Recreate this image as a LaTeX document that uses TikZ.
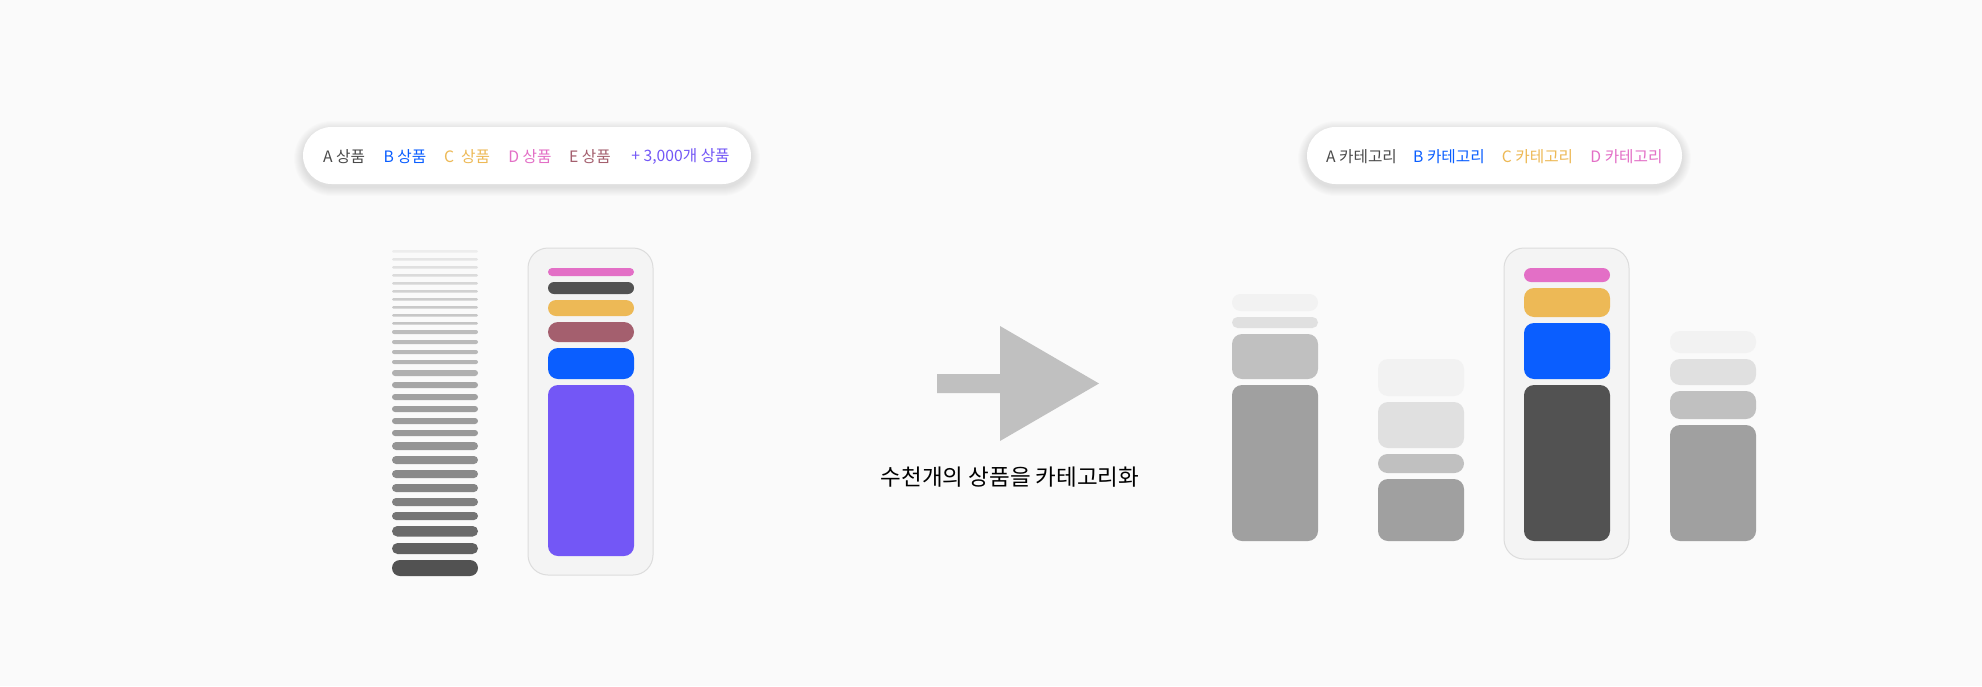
\documentclass[tikz,border=0pt]{standalone}
\usepackage{fontspec}
\setmainfont{Noto Sans CJK KR}
\definecolor{bgc}{HTML}{FAFAFA}
\definecolor{cA}{HTML}{4A4A4A}
\definecolor{cB}{HTML}{0A5EFF}
\definecolor{cC}{HTML}{EDB956}
\definecolor{cD}{HTML}{E36FC6}
\definecolor{cE}{HTML}{A45F6E}
\definecolor{cP}{HTML}{7357F6}
\definecolor{cDark}{HTML}{525252}
\definecolor{cardfill}{HTML}{F4F4F4}
\definecolor{cardline}{HTML}{DCDCDC}
\definecolor{g1}{HTML}{F2F2F2}
\definecolor{g2}{HTML}{E0E0E0}
\definecolor{g3}{HTML}{C0C0C0}
\definecolor{g4}{HTML}{A0A0A0}
\definecolor{arrowc}{HTML}{C0C0C0}
\newcommand\rbox[5]{%
  \pgfmathsetmacro\rr{min((#4)/2,10)}%
  \fill[#5, rounded corners=\rr pt] (#1,#2) rectangle ++(#3,#4);}
\newcommand\pill[4]{%
  \foreach \i in {1,...,9}{%
    \pgfmathsetmacro\rs{28.5+\i}%
    \fill[black, opacity=0.010, rounded corners=\rs pt] (#1-\i,#2-\i+3) rectangle (#3+\i,#4+\i+3);}
  \fill[white, rounded corners=28.5pt] (#1,#2) rectangle (#3,#4);}
\begin{document}
\begin{tikzpicture}[x=1pt,y=-1pt,
  every node/.style={inner sep=0pt, outer sep=0pt},
  lbl/.style={font=\fontsize{15.7}{18}\selectfont},
  card/.style={fill=cardfill, draw=cardline, line width=1pt, rounded corners=20pt}]
\useasboundingbox (0,0) rectangle (1982,686);
\fill[bgc] (0,0) rectangle (1982,686);

% ---------- pills ----------
\pill{303}{127}{751}{184}
\pill{1307}{127}{1682}{184}

\node[lbl, text=cA] (pA) at (344,156.3) {A 상품};
\node[lbl, text=cB] (pB) at (405,156.3) {B 상품};
\node[lbl, text=cC] (pC) at (467,156.3) {C\ \ 상품};
\node[lbl, text=cD] (pD) at (530,156.3) {D 상품};
\node[lbl, text=cE] (pE) at (590,156.3) {E 상품};
\node[lbl, text=cP] (pP) at (680.5,156.3) {+ 3,000개 상품};

\node[lbl, text=cA] (kA) at (1361.5,156.3) {A 카테고리};
\node[lbl, text=cB] (kB) at (1449,156.3) {B 카테고리};
\node[lbl, text=cC] (kC) at (1537.5,156.3) {C 카테고리};
\node[lbl, text=cD] (kD) at (1626.5,156.3) {D 카테고리};

% ---------- left stripes ----------
\foreach \t/\h/\p in {250/2.5/7, 258/2.5/10, 266/2.5/12, 274/2.5/14, 282/2.5/16,
  290/2.5/18, 298/2.5/20, 306/2.5/21, 314/2.5/22, 322/2.5/23,
  330/4/26, 340/4/27, 350/4/28, 360/4/29,
  370/6/31, 382/6/35, 394/6/37, 406/6/38, 418/6/39, 430/6/40,
  442/8/42, 456/8/44, 470/8/46, 484/8/48, 498/8/50, 512/8/54,
  526/10.5/58, 543/11/62, 560/16/68}{
  \rbox{392}{\t}{86}{\h}{black!\p!white}
}

% ---------- left card ----------
\draw[card] (528,248) rectangle (653,575);
\rbox{548}{268}{86}{8}{cD}
\rbox{548}{282}{86}{12}{cDark}
\rbox{548}{300}{86}{16}{cC}
\rbox{548}{322}{86}{20}{cE}
\rbox{548}{348}{86}{31}{cB}
\rbox{548}{385}{86}{171}{cP}

% ---------- arrow ----------
\fill[arrowc] (937,374) -- (1000,374) -- (1000,326) -- (1099,383.5) -- (1000,441) -- (1000,393) -- (937,393) -- cycle;
\node[font=\fontsize{22.5}{26}\selectfont, text=black] (cap) at (1010,477) {수천개의 상품을 카테고리화};

% ---------- right columns ----------
\rbox{1232}{294}{86}{17}{g1}
\rbox{1232}{317}{86}{11}{g2}
\rbox{1232}{334}{86}{45}{g3}
\rbox{1232}{385}{86}{156}{g4}

\rbox{1378}{359}{86}{37}{g1}
\rbox{1378}{402}{86}{46}{g2}
\rbox{1378}{454}{86}{19}{g3}
\rbox{1378}{479}{86}{62}{g4}

\draw[card] (1504,248) rectangle (1629,559);
\rbox{1524}{268}{86}{14}{cD}
\rbox{1524}{288}{86}{29}{cC}
\rbox{1524}{323}{86}{56}{cB}
\rbox{1524}{385}{86}{156}{cDark}

\rbox{1670}{331}{86}{22}{g1}
\rbox{1670}{359}{86}{26}{g2}
\rbox{1670}{391}{86}{28}{g3}
\rbox{1670}{425}{86}{116}{g4}
\end{tikzpicture}
\end{document}
